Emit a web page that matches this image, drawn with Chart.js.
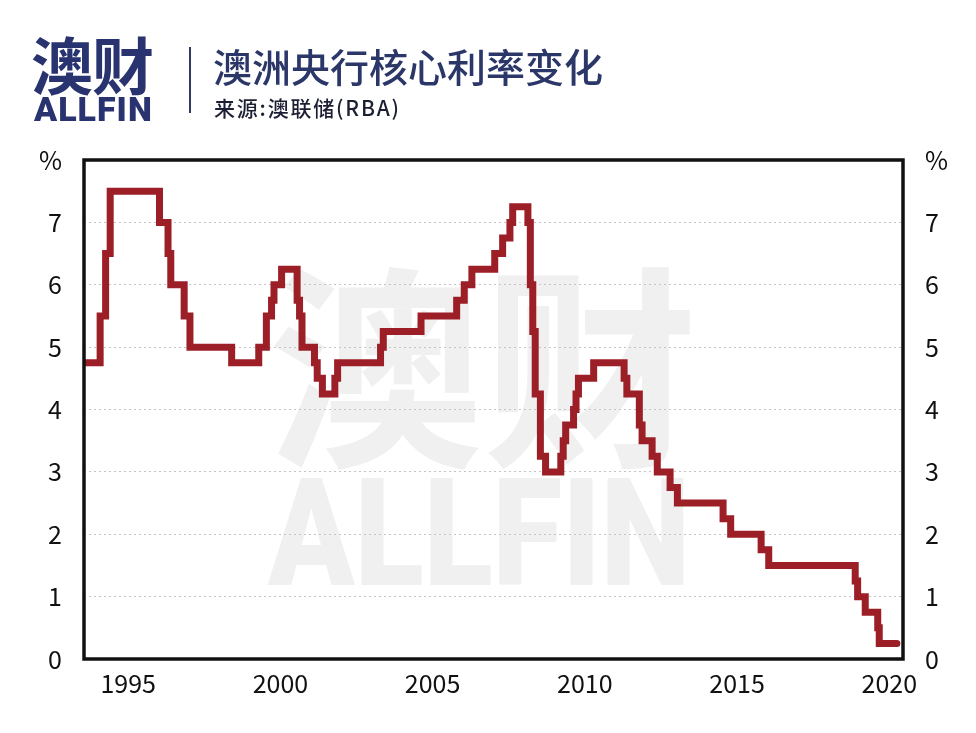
<!DOCTYPE html>
<html>
<head>
<meta charset="utf-8">
<script src="https://cdn.jsdelivr.net/npm/chart.js@4.4.0/dist/chart.umd.min.js"></script>
<style>
  body { margin: 0; background: #fff; }
  #page { position: relative; width: 976px; height: 733px; overflow: hidden; }
  #rateChart { position: absolute; left: 0; top: 0; }
  .logo-cn { position: absolute; left: 31px; top: 32px; font: 700 62px/62px "Noto Sans CJK SC"; color: #29336f; letter-spacing: -1px; }
  .logo-en { position: absolute; left: 34px; top: 92px; font: 900 34px/34px Roboto; color: #29336f; letter-spacing: 1px; }
  .divider { position: absolute; left: 189px; top: 47px; width: 2px; height: 66px; background: #2f3a66; }
  .title { position: absolute; left: 213px; top: 46px; font: 500 39px/39px "Noto Sans CJK SC"; color: #2b3768; }
  .source { position: absolute; left: 214px; top: 95px; font: 500 21px/24px "Noto Sans CJK SC"; color: #1c1f33; letter-spacing: 1.8px; }
</style>
</head>
<body>
<div id="page">
  <canvas id="rateChart" width="976" height="733"></canvas>
  <div class="logo-cn">澳财</div>
  <div class="logo-en">ALLFIN</div>
  <div class="divider"></div>
  <div class="title">澳洲央行核心利率变化</div>
  <div class="source">来源:澳联储(RBA)</div>
</div>
<script>
// 利率变动日期(年份小数)和变动后的利率 %
const dates = [
  1994.15, 1994.63, 1994.81, 1994.96, 1996.58, 1996.86, 1996.95, 1997.39, 1997.58, 1998.95,
  1999.84, 2000.09, 2000.26, 2000.34, 2000.59, 2001.10, 2001.18, 2001.26, 2001.67, 2001.76,
  2001.93, 2002.34, 2002.43, 2003.84, 2003.93, 2005.17, 2006.34, 2006.59, 2006.84, 2007.59,
  2007.85, 2008.09, 2008.18, 2008.68, 2008.76, 2008.84, 2008.92, 2009.09, 2009.26, 2009.76,
  2009.84, 2009.92, 2010.18, 2010.26, 2010.34, 2010.84, 2011.84, 2011.93, 2012.34, 2012.43,
  2012.76, 2012.93, 2013.35, 2013.59, 2015.09, 2015.34, 2016.34, 2016.59, 2019.43, 2019.51,
  2019.76, 2020.17, 2020.22, 2020.80
];
const rates = [
  4.75, 5.50, 6.50, 7.50, 7.00, 6.50, 6.00, 5.50, 5.00, 4.75,
  5.00, 5.50, 5.75, 6.00, 6.25, 5.75, 5.50, 5.00, 4.75, 4.50,
  4.25, 4.50, 4.75, 5.00, 5.25, 5.50, 5.75, 6.00, 6.25, 6.50,
  6.75, 7.00, 7.25, 7.00, 6.00, 5.25, 4.25, 3.25, 3.00, 3.25,
  3.50, 3.75, 4.00, 4.25, 4.50, 4.75, 4.50, 4.25, 3.75, 3.50,
  3.25, 3.00, 2.75, 2.50, 2.25, 2.00, 1.75, 1.50, 1.25, 1.00,
  0.75, 0.50, 0.25, 0.25
];
const xTickLabels = ['1995', '2000', '2005', '2010', '2015', '2020'];
const yTickLabels = ['0', '1', '2', '3', '4', '5', '6', '7', '%'];

const tickFont = { family: "'Noto Sans CJK SC', sans-serif", size: 25 };

const watermark = {
  id: 'watermark',
  beforeDraw(chart) {
    const ctx = chart.ctx;
    ctx.save();
    ctx.fillStyle = '#f0f0f0';
    ctx.textAlign = 'center';
    ctx.textBaseline = 'middle';
    ctx.font = '700 215px "Noto Sans CJK SC"';
    ctx.fillText('澳财', 483, 368);
    ctx.textBaseline = 'alphabetic';
    ctx.font = '900 150px Roboto';
    ctx.fillText('ALLFIN', 479, 585, 422);
    ctx.restore();
  }
};

const frame = {
  id: 'frame',
  afterDatasetsDraw(chart) {
    const { ctx, chartArea: a } = chart;
    ctx.save();
    ctx.strokeStyle = '#111';
    ctx.lineWidth = 3.5;
    ctx.strokeRect(a.left, a.top, a.right - a.left, a.bottom - a.top);
    ctx.restore();
  }
};

const ctx = document.getElementById('rateChart').getContext('2d');
new Chart(ctx, {
  type: 'line',
  data: {
    datasets: [{
      label: '澳洲央行核心利率',
      data: dates.map((d, i) => ({ x: d, y: rates[i] })),
      stepped: 'before',
      borderColor: '#9c1f27',
      borderWidth: 7,
      borderCapStyle: 'round',
      borderJoinStyle: 'miter',
      pointRadius: 0,
      fill: false
    }]
  },
  options: {
    responsive: false,
    animation: false,
    layout: { padding: { top: 160, left: 0, right: 0, bottom: 0 } },
    plugins: {
      legend: { display: false },
      tooltip: { enabled: false }
    },
    scales: {
      x: {
        type: 'linear',
        min: 1994.1,
        max: 2021.0,
        afterFit: s => { s.height = 74; },
        afterBuildTicks: s => { s.ticks = xTickLabels.map(t => ({ value: Number(t) + 0.55 })); },
        ticks: {
          autoSkip: false,
          maxRotation: 0,
          padding: 9,
          color: '#111',
          font: tickFont,
          callback: (v, i) => xTickLabels[i]
        },
        grid: { display: false, drawTicks: false },
        border: { display: false }
      },
      y: {
        position: 'left',
        min: 0,
        max: 8,
        afterFit: s => { s.width = 84; },
        ticks: {
          stepSize: 1,
          padding: 22,
          color: '#111',
          font: tickFont,
          callback: (v, i) => yTickLabels[i]
        },
        grid: {
          drawTicks: false,
          lineWidth: 1,
          color: c => (c.tick && c.tick.value > 0 && c.tick.value < 8) ? '#c4c4c4' : 'rgba(0,0,0,0)'
        },
        border: { display: false, dash: [2, 3] }
      },
      y2: {
        position: 'right',
        min: 0,
        max: 8,
        afterFit: s => { s.width = 73; },
        ticks: {
          stepSize: 1,
          padding: 22,
          color: '#111',
          font: tickFont,
          callback: (v, i) => yTickLabels[i]
        },
        grid: { display: false, drawTicks: false },
        border: { display: false }
      }
    }
  },
  plugins: [watermark, frame]
});
</script>
</body>
</html>
